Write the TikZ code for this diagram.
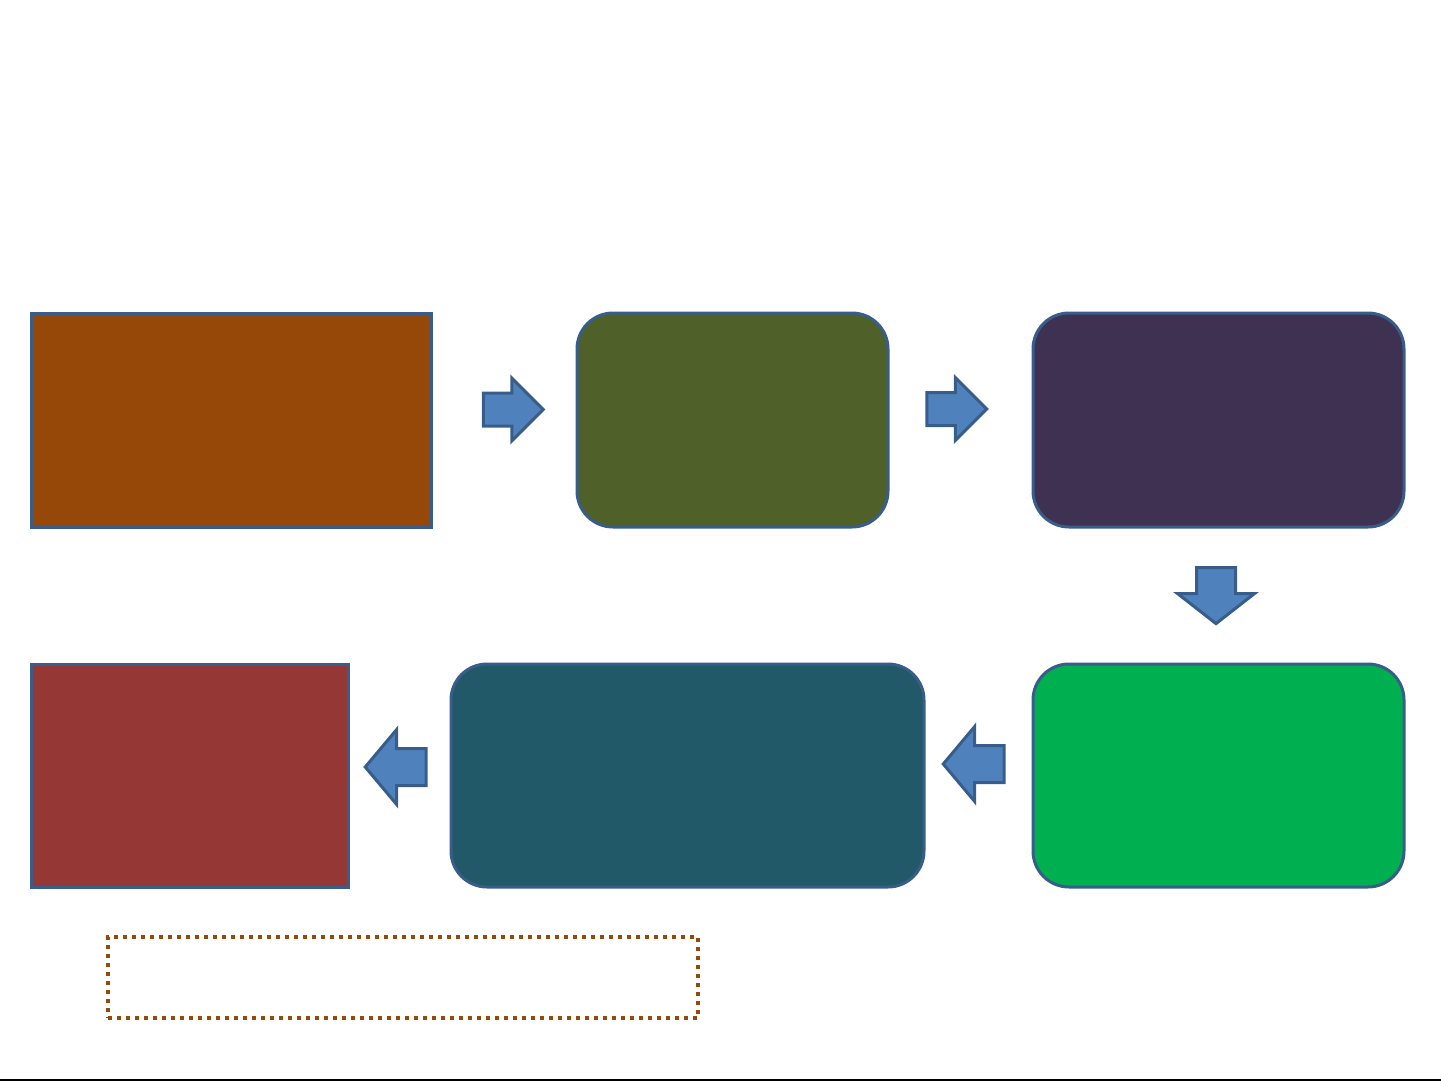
\documentclass[tikz,border=0pt]{standalone}
\usepackage{xcolor}
\usepackage{tikz}
\usetikzlibrary{shapes.arrows}

\definecolor{edgeblue}{HTML}{385D8A}
\definecolor{arrowblue}{HTML}{4F81BD}
\definecolor{rust}{HTML}{954808}
\definecolor{olive}{HTML}{4F6128}
\definecolor{plum}{HTML}{3F3151}
\definecolor{brightgreen}{HTML}{00B050}
\definecolor{petrol}{HTML}{215968}
\definecolor{brick}{HTML}{953735}
\definecolor{dotbrown}{HTML}{984807}

\begin{document}
\begin{tikzpicture}[x=1pt, y=-1pt,
  flowbox/.style={rectangle, draw=edgeblue, line width=3pt, inner sep=0pt},
  roundbox/.style={flowbox, rounded corners=36pt},
  blockarrow/.style={single arrow, draw=edgeblue, fill=arrowblue, line width=3pt,
    inner sep=0pt, anchor=center}]
\newcommand{\Toprow}{420}; % centre of upper row
\newcommand{\Botrow}{775.5}; % centre of lower row

\useasboundingbox (0,0) rectangle (1441,1081);

% upper row
\node[flowbox, fill=rust, minimum width=400pt, minimum height=214pt] (start) at (231, \Toprow) {};
\node[roundbox, fill=olive, minimum width=311pt, minimum height=214pt] (second) at (732.5, \Toprow) {};
\node[roundbox, fill=plum, minimum width=371pt, minimum height=214pt] (third) at (1218.5, \Toprow) {};
%

% lower row
\node[roundbox, fill=brightgreen, minimum width=371pt, minimum height=223pt] (fourth) at (1218.5, \Botrow) {};
\node[roundbox, fill=petrol, minimum width=473pt, minimum height=223pt] (fifth) at (687.5, \Botrow) {};
\node[flowbox, fill=brick, minimum width=317pt, minimum height=223pt] (last) at (189.5, \Botrow) {};
%

% block arrows between the boxes
\node[blockarrow, minimum height=60pt, inner ysep=15pt, single arrow head extend=15pt] (ab) at (505, 409.5) {};
\node[blockarrow, minimum height=60pt, inner ysep=15pt, single arrow head extend=15pt] (bc) at (948.5, 409) {};
\node[blockarrow, shape border rotate=270, minimum height=56pt, inner xsep=18pt,
  single arrow head extend=19pt, single arrow tip angle=104] (cd) at (1216, 588) {};
\node[blockarrow, shape border rotate=180, minimum height=61pt, inner ysep=17pt,
  single arrow head extend=19pt, single arrow tip angle=100] (de) at (981.5, 764) {};
\node[blockarrow, shape border rotate=180, minimum height=61pt, inner ysep=17pt,
  single arrow head extend=19pt, single arrow tip angle=100] (ef) at (403.5, 767) {};

% dotted note frame
\node[rectangle, draw=dotbrown, line width=4pt, dash pattern=on 4pt off 5pt,
  minimum width=590pt, minimum height=81pt, inner sep=0pt] (note) at (403, 977.5) {};

% rule at the foot
\draw[line width=2pt] (0,1080) -- (1441,1080);
\end{tikzpicture}
\end{document}
